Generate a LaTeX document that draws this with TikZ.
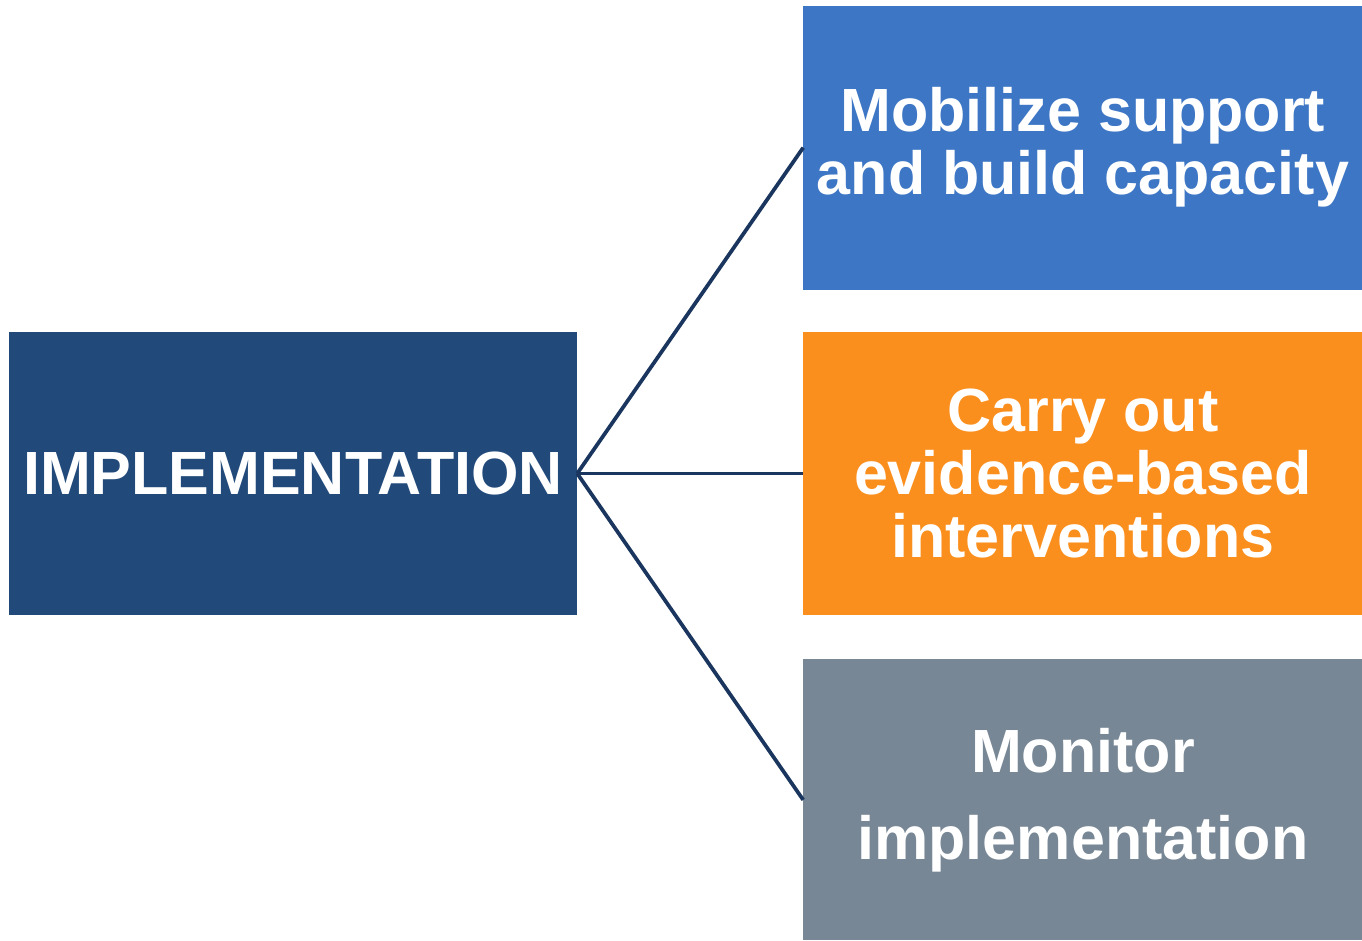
\documentclass[tikz,border=0pt]{standalone}
\usepackage{fontspec}
\setmainfont{Liberation Sans}
\usetikzlibrary{positioning}

\begin{document}
\begin{tikzpicture}[x=1pt,y=-1pt]

      \definecolor{navy}{HTML}{214A7B}
      \definecolor{darknavy}{HTML}{1B365E}
      \definecolor{blue}{HTML}{3C76C4}
      \definecolor{orange}{HTML}{FB8F1E}
      \definecolor{gray}{HTML}{778795}

      \tikzstyle{block}     = [rectangle, minimum width=559pt, minimum height=283pt, inner sep=0pt, text=white, align=center, font=\fontsize{61}{63}\selectfont\bfseries]
      \tikzstyle{connector} = [line width=3.75pt, draw=darknavy]

      \newcommand{\blocksep}[0]{226pt}

      \useasboundingbox (0,0) rectangle (1362,940);

      \node [block, minimum width=568pt, fill=navy]                              at (293,473.5) (impl)     {IMPLEMENTATION};
      \node [block, fill=orange, right = \blocksep of impl]                                     (carryout) {Carry out\\evidence-based\\interventions};
      \node [block, fill=blue,   above = 42pt of carryout, minimum height=284pt]               (mobilize) {Mobilize support\\and build capacity};
      \node [block, fill=gray,   below = 44pt of carryout, minimum height=281pt,
             font=\fontsize{61}{87}\selectfont\bfseries]                                        (monitor)  {Monitor\\implementation};

      \draw [connector] (impl.east) -- (mobilize.west);
      \draw [connector] (impl.east) -- (carryout.west);
      \draw [connector] (impl.east) -- (monitor.west);

\end{tikzpicture}
\end{document}
